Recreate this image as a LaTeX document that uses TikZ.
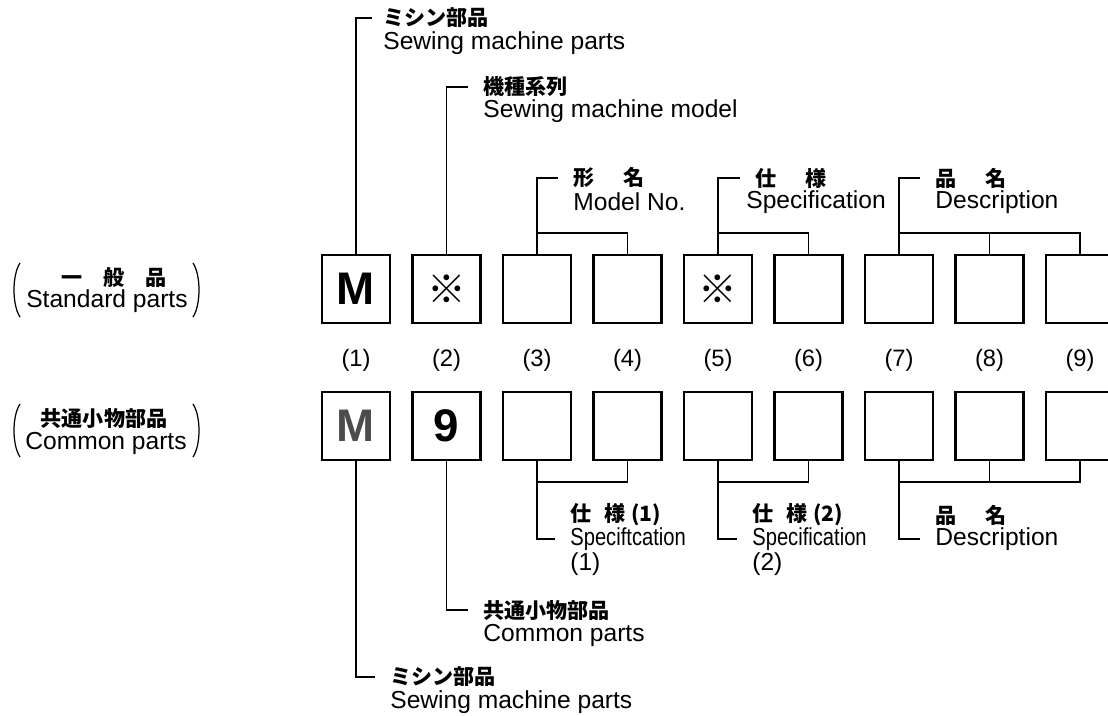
\documentclass[tikz,border=0pt]{standalone}
\usepackage{fontspec}
\usepackage{graphicx}
\setmainfont{Liberation Sans}
\newfontfamily\jpfont{Noto Sans CJK JP}
\definecolor{inkgray}{gray}{0.3}

\begin{document}
\begin{tikzpicture}[x=0.02cm, y=-0.02cm]
  \tikzset{
    part_box/.style={draw, line width=1.5pt, minimum size=1.36cm, inner sep=0pt},
    link_line/.style={line width=0.9pt},
    jp_label/.style={anchor=west, inner sep=0pt, font=\jpfont\bfseries\fontsize{12}{14}\selectfont},
    en_label/.style={anchor=west, inner sep=0pt, font=\fontsize{14}{16}\selectfont},
    num_label/.style={inner sep=0pt, font=\fontsize{13.5}{15}\selectfont},
    big_char/.style={font=\bfseries\fontsize{26}{26}\selectfont},
    mark_char/.style={font=\jpfont\fontsize{22}{22}\selectfont}
  }

  % Bounding box (same size as the scan)
  \useasboundingbox (0,0) rectangle (1108,716);

  % Standard parts (upper row)
  \node[part_box, big_char] (s1) at (356,289) {M};
  \node[part_box, mark_char] (s2) at (446.5,289) {※};
  \node[part_box] (s3) at (537,289) {};
  \node[part_box] (s4) at (627.5,289) {};
  \node[part_box, mark_char] (s5) at (718,289) {※};
  \node[part_box] (s6) at (808.5,289) {};
  \node[part_box] (s7) at (899,289) {};
  \node[part_box] (s8) at (989.5,289) {};
  \node[part_box] (s9) at (1080,289) {};

  % Position numbers
  \node[num_label] (n1) at (356,360) {(1)};
  \node[num_label] (n2) at (446.5,360) {(2)};
  \node[num_label] (n3) at (537,360) {(3)};
  \node[num_label] (n4) at (627.5,360) {(4)};
  \node[num_label] (n5) at (718,360) {(5)};
  \node[num_label] (n6) at (808.5,360) {(6)};
  \node[num_label] (n7) at (899,360) {(7)};
  \node[num_label] (n8) at (989.5,360) {(8)};
  \node[num_label] (n9) at (1080,360) {(9)};

  % Common parts (lower row)
  \node[part_box, big_char, text=inkgray] (c1) at (356,426) {M};
  \node[part_box, big_char] (c2) at (446.5,426) {9};
  \node[part_box] (c3) at (537,426) {};
  \node[part_box] (c4) at (627.5,426) {};
  \node[part_box] (c5) at (718,426) {};
  \node[part_box] (c6) at (808.5,426) {};
  \node[part_box] (c7) at (899,426) {};
  \node[part_box] (c8) at (989.5,426) {};
  \node[part_box] (c9) at (1080,426) {};

  % Row titles on the left
  \node[inner sep=0pt, font=\jpfont\bfseries\fontsize{12}{14}\selectfont] (std_jp) at (114,277) {一\hspace{1em}般\hspace{1em}品};
  \node[inner sep=0pt, font=\fontsize{14}{16}\selectfont] (std_en) at (107,301) {Standard parts};
  \node[inner sep=0pt, font=\jpfont\bfseries\fontsize{12}{14}\selectfont] (com_jp) at (104,418) {共通小物部品};
  \node[inner sep=0pt, font=\fontsize{14}{16}\selectfont] (com_en) at (106,443) {Common parts};
  \draw[line width=0.7pt] (20,263) .. controls (12,275) and (12,305) .. (20,317);
  \draw[line width=0.7pt] (193,263) .. controls (201,275) and (201,305) .. (193,317);
  \draw[line width=0.7pt] (20,404) .. controls (12,416) and (12,445) .. (20,457);
  \draw[line width=0.7pt] (193,404) .. controls (201,416) and (201,445) .. (193,457);

  % Labels above the upper row
  \node[jp_label] (sew_top_jp) at (383,18) {ミシン部品};
  \node[en_label] (sew_top_en) at (383,43) {Sewing machine parts};
  \node[jp_label] (model_jp) at (483,87) {機種系列};
  \node[en_label] (model_en) at (483,111) {Sewing machine model};
  \node[jp_label] (type_jp) at (573,178) {形\hspace{1.4em}名};
  \node[en_label] (type_en) at (573,202) {Model No.};
  \node[jp_label] (spec_jp) at (755,178) {仕\hspace{1.4em}様};
  \node[en_label] (spec_en) at (746,202) {Specification};
  \node[jp_label] (desc_jp) at (935,178) {品\hspace{1.4em}名};
  \node[en_label] (desc_en) at (935,202) {Description};

  % Labels below the lower row
  \node[jp_label] (spec1_jp) at (570,515) {仕\hspace{0.6em}様\hspace{0.3em}(1)};
  \node[en_label] (spec1_en) at (570,539) {\scalebox{0.82}[1]{Speciftcation}};
  \node[en_label] (spec1_no) at (570,564) {(1)};
  \node[jp_label] (spec2_jp) at (752,515) {仕\hspace{0.6em}様\hspace{0.3em}(2)};
  \node[en_label] (spec2_en) at (752,539) {\scalebox{0.82}[1]{Specification}};
  \node[en_label] (spec2_no) at (752,564) {(2)};
  \node[jp_label] (desc2_jp) at (935,515) {品\hspace{1.4em}名};
  \node[en_label] (desc2_en) at (935,539) {Description};
  \node[jp_label] (com2_jp) at (483,610) {共通小物部品};
  \node[en_label] (com2_en) at (483,635) {Common parts};
  \node[jp_label] (sew_bot_jp) at (390,677) {ミシン部品};
  \node[en_label] (sew_bot_en) at (390,702) {Sewing machine parts};

  % Heights of the joining lines
  \coordinate (top_join) at (0,233);
  \coordinate (bot_join) at (0,482);

  % Brackets of the upper row
  \draw[link_line] (s1.north) |- ([xshift=-0.22cm]sew_top_jp.west);
  \draw[link_line] (s2.north) |- ([xshift=-0.3cm]model_jp.west);
  \draw[link_line] (s3.north) |- ([xshift=-0.3cm]type_jp.west);
  \draw[link_line] (s4.north) |- (s3.north |- top_join);
  \draw[link_line] (s5.north) |- ([xshift=-0.3cm]spec_jp.west);
  \draw[link_line] (s6.north) |- (s5.north |- top_join);
  \draw[link_line] (s7.north) |- ([xshift=-0.3cm]desc_jp.west);
  \draw[link_line] (s8.north) |- (s7.north |- top_join);
  \draw[link_line] (s9.north) |- (s7.north |- top_join);

  % Brackets of the lower row
  \draw[link_line] (c1.south) |- ([xshift=-0.3cm]sew_bot_jp.west);
  \draw[link_line] (c2.south) |- ([xshift=-0.3cm]com2_jp.west);
  \draw[link_line] (c3.south) |- ([xshift=-0.3cm]spec1_en.west);
  \draw[link_line] (c4.south) |- (c3.south |- bot_join);
  \draw[link_line] (c5.south) |- ([xshift=-0.3cm]spec2_en.west);
  \draw[link_line] (c6.south) |- (c5.south |- bot_join);
  \draw[link_line] (c7.south) |- ([xshift=-0.3cm]desc2_en.west);
  \draw[link_line] (c8.south) |- (c7.south |- bot_join);
  \draw[link_line] (c9.south) |- (c7.south |- bot_join);
\end{tikzpicture}
\end{document}
